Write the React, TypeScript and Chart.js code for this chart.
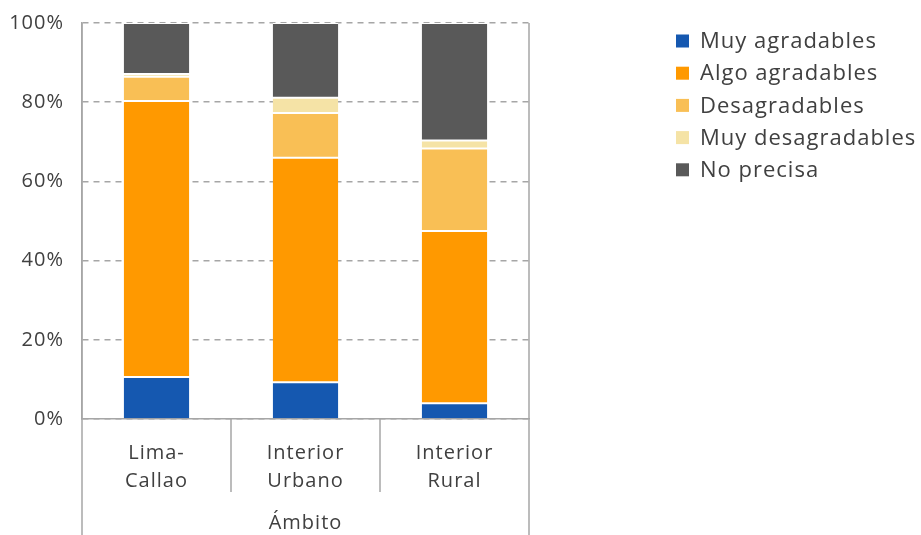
import React, { useEffect, useRef } from "react";
import { Chart, registerables } from "chart.js";

Chart.register(...registerables);

const categories = [["Lima-", "Callao"], ["Interior", "Urbano"], ["Interior", "Rural"]];
const axisTitle = "Ámbito";
const seriesLabels = ["Muy agradables", "Algo agradables", "Desagradables", "Muy desagradables", "No precisa"];
const muyAgradables = [10.6, 9.3, 4.0];
const algoAgradables = [69.7, 56.7, 43.5];
const desagradables = [6.1, 11.3, 20.8];
const muyDesagradables = [0.7, 3.8, 2.0];
const noPrecisa = [12.9, 18.9, 29.7];
const yTicks = [0, 20, 40, 60, 80, 100];
const colors = ["#1558B0", "#FF9900", "#F9BF55", "#F5E3A6", "#595959"];

const FONT = "'Open Sans', sans-serif";
const TEXT = "#404040";
const LINE = "#A6A6A6";

const legendPlugin = {
  id: "customLegend",
  beforeDraw(chart: any) {
    chart.ctx.letterSpacing = "1px";
  },
  afterDraw(chart: any) {
    const ctx = chart.ctx;
    const { chartArea } = chart;
    const xs = chart.scales.x;
    ctx.save();
    ctx.strokeStyle = LINE;
    ctx.lineWidth = 1.5;
    const n = xs.ticks.length;
    const bounds: number[] = [chartArea.left];
    for (let i = 0; i < n - 1; i++) {
      bounds.push((xs.getPixelForTick(i) + xs.getPixelForTick(i + 1)) / 2);
    }
    bounds.push(chartArea.right);
    bounds.forEach((b, i) => {
      const outer = i === 0 || i === bounds.length - 1;
      ctx.beginPath();
      ctx.moveTo(b, outer ? chartArea.top : chartArea.bottom);
      ctx.lineTo(b, outer ? chart.height : chartArea.bottom + 73);
      ctx.stroke();
    });
    ctx.letterSpacing = "1px";
    ctx.font = `22px ${FONT}`;
    ctx.textBaseline = "middle";
    ctx.textAlign = "left";
    chart.data.datasets.forEach((ds: any, i: number) => {
      const y = 41 + i * 32.2;
      ctx.fillStyle = ds.backgroundColor;
      ctx.fillRect(676, y - 6.5, 13, 13);
      ctx.fillStyle = TEXT;
      ctx.fillText(ds.label, 700, y + 1);
    });
    ctx.restore();
  },
};

export default function App() {
  const ref = useRef<HTMLCanvasElement>(null);
  useEffect(() => {
    const seriesData = [muyAgradables, algoAgradables, desagradables, muyDesagradables, noPrecisa];
    const chart = new Chart(ref.current as HTMLCanvasElement, {
      type: "bar",
      data: {
        labels: categories as any,
        datasets: seriesData.map((d, i) => ({
          label: seriesLabels[i],
          data: d,
          backgroundColor: colors[i],
          borderColor: "#FFFFFF",
          borderWidth: { top: 1, bottom: i === 0 ? 0 : 1, left: 0, right: 0 },
          borderSkipped: false,
          categoryPercentage: 1,
          barPercentage: 0.44,
        })),
      },
      options: {
        animation: false,
        responsive: true,
        maintainAspectRatio: false,
        layout: { padding: { top: 23, right: 392, left: 0, bottom: 0 } },
        plugins: { legend: { display: false }, tooltip: { enabled: false } },
        scales: {
          x: {
            stacked: true,
            grid: { display: true, drawOnChartArea: false, drawTicks: false },
            border: { display: true, color: LINE, width: 1.5 },
            ticks: { color: TEXT, font: { family: FONT, size: 20, lineHeight: 1.4 }, padding: 20, maxRotation: 0 },
            title: {
              display: true,
              text: axisTitle,
              color: TEXT,
              font: { family: FONT, size: 20 },
              padding: { top: 0, bottom: 0 },
            },
            afterFit: (s: any) => {
              s.height = 116;
              s.paddingLeft = 0;
              s.paddingRight = 0;
            },
          },
          y: {
            stacked: true,
            min: 0,
            max: 100,
            afterBuildTicks: (s: any) => {
              s.ticks = yTicks.map((v) => ({ value: v }));
            },
            grid: { color: LINE, lineWidth: 1.5, drawTicks: false },
            border: { display: true, color: LINE, width: 1.5, dash: [6, 5] },
            ticks: {
              color: TEXT,
              font: { family: FONT, size: 20 },
              padding: 18,
              callback: (v: any) => `${v}%`,
            },
            afterFit: (s: any) => {
              s.width = 82;
              s.paddingTop = 0;
              s.paddingBottom = 0;
            },
          },
        },
      },
      plugins: [legendPlugin],
    });
    return () => chart.destroy();
  }, []);
  return (
    <div style={{ position: "fixed", left: 0, top: 0, width: 921, height: 535 }}>
      <canvas ref={ref} />
    </div>
  );
}
